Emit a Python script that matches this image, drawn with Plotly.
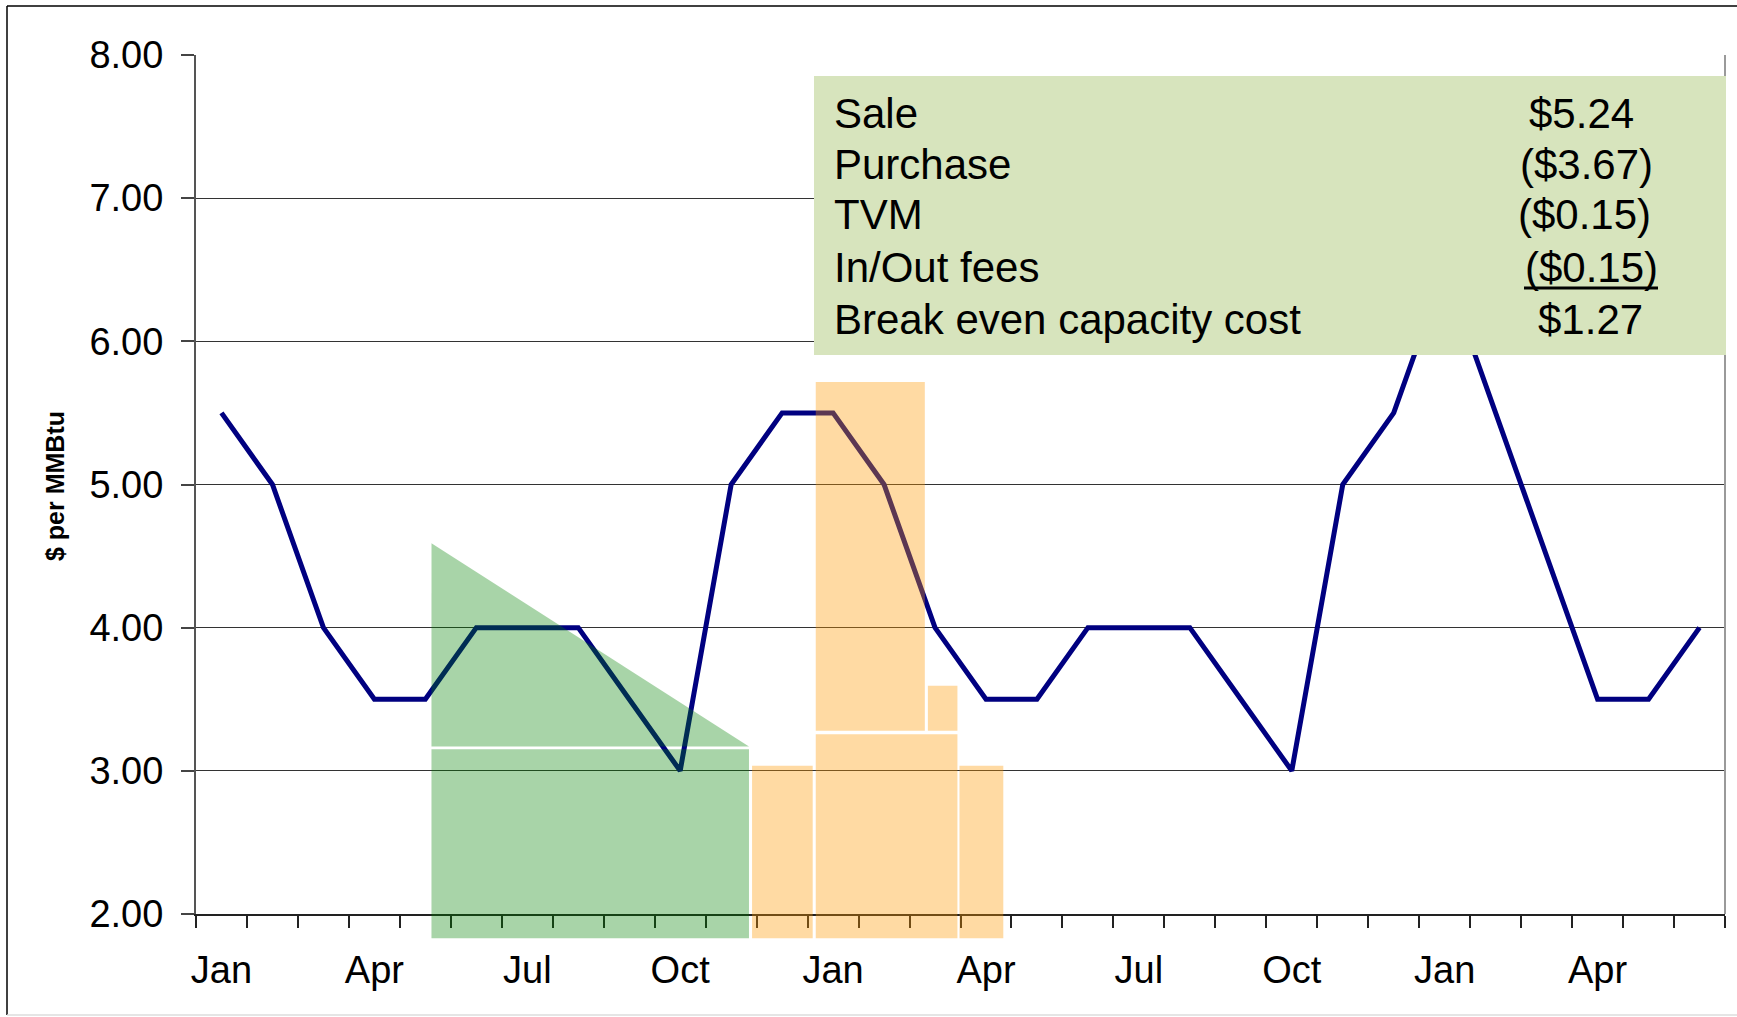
import plotly.graph_objects as go

# ---------------- data ----------------
months = ["Jan", "Feb", "Mar", "Apr", "May", "Jun", "Jul", "Aug", "Sep", "Oct", "Nov", "Dec",
          "Jan", "Feb", "Mar", "Apr", "May", "Jun", "Jul", "Aug", "Sep", "Oct", "Nov", "Dec",
          "Jan", "Feb", "Mar", "Apr", "May", "Jun"]
prices = [5.5, 5.0, 4.0, 3.5, 3.5, 4.0, 4.0, 4.0, 3.5, 3.0, 5.0, 5.5,
          5.5, 5.0, 4.0, 3.5, 3.5, 4.0, 4.0, 4.0, 3.5, 3.0, 5.0, 5.5,
          6.5, 5.5, 4.5, 3.5, 3.5, 4.0]
x_label_idx = [0, 3, 6, 9, 12, 15, 18, 21, 24, 27]
x_tick_labels = ["Jan", "Apr", "Jul", "Oct", "Jan", "Apr", "Jul", "Oct", "Jan", "Apr"]
y_tick_vals = [2, 3, 4, 5, 6, 7, 8]
y_tick_labels = ["2.00", "3.00", "4.00", "5.00", "6.00", "7.00", "8.00"]

# injection period (green)
inj_x0, inj_x1 = 4.62, 10.85
inj_bottom = 1.83
inj_rect_top = 3.15
inj_tri_base = 3.17
inj_tri_top = 4.59

# withdrawal blocks (orange)
wd_x0 = [10.91, 12.16, 12.16, 14.36, 14.98]
wd_x1 = [12.10, 14.94, 14.30, 14.94, 15.84]
wd_y0 = [1.83, 1.83, 3.28, 3.28, 1.83]
wd_y1 = [3.035, 3.256, 5.716, 3.594, 3.035]

table_labels = ["Sale", "Purchase", "TVM", "In/Out fees", "Break even capacity cost"]
table_values = ["$5.24", "($3.67)", "($0.15)", "($0.15)", "$1.27"]

# ---------------- layout geometry ----------------
W, H = 1737, 1017
L, R, T, B = 196, 1725, 55, 914
Y_MIN, Y_MAX = 2, 8
X_MIN, X_MAX = 0, len(prices)
FONT = "Liberation Sans, Arial, sans-serif"


def fx(px):
    return (px - L) / (R - L)


def fy(py):
    return (B - py) / (B - T)


def yd(v):
    return (v - Y_MIN) / (Y_MAX - Y_MIN)


fig = go.Figure()
fig.add_trace(go.Scatter(
    x=[i + 0.5 for i in range(len(prices))], y=prices, mode="lines",
    line=dict(color="#000080", width=5), hoverinfo="skip", showlegend=False,
))

shapes = []
GREEN = "rgba(0,128,0,0.34)"
ORANGE = "rgba(255,153,0,0.36)"
shapes.append(dict(type="rect", xref="x", yref="y domain", x0=inj_x0, x1=inj_x1,
                   y0=yd(inj_bottom), y1=yd(inj_rect_top), fillcolor=GREEN,
                   line=dict(width=0), layer="above"))
shapes.append(dict(type="path", xref="x", yref="y domain",
                   path=f"M {inj_x0},{yd(inj_tri_base)} L {inj_x0},{yd(inj_tri_top)} L {inj_x1},{yd(inj_tri_base)} Z",
                   fillcolor=GREEN, line=dict(width=0), layer="above"))
for a, b, c, d in zip(wd_x0, wd_x1, wd_y0, wd_y1):
    shapes.append(dict(type="rect", xref="x", yref="y domain", x0=a, x1=b,
                       y0=yd(c), y1=yd(d), fillcolor=ORANGE,
                       line=dict(width=0), layer="above"))

# right border of plot area
shapes.append(dict(type="line", xref="paper", yref="paper", x0=1, x1=1, y0=0, y1=1,
                   line=dict(color="#9a9a9a", width=2), layer="above"))
# table box
shapes.append(dict(type="rect", xref="paper", yref="paper", x0=fx(814), x1=fx(1726),
                   y0=fy(355), y1=fy(76), fillcolor="#d7e4bd", line=dict(width=0), layer="above"))
# underline
shapes.append(dict(type="line", xref="paper", yref="paper", x0=fx(1524), x1=fx(1658),
                   y0=fy(288), y1=fy(288), line=dict(color="black", width=3), layer="above"))
# outer frame
shapes.append(dict(type="line", xref="paper", yref="paper", x0=fx(7), x1=fx(1737),
                   y0=fy(6), y1=fy(6), line=dict(color="black", width=1.5), layer="above"))
shapes.append(dict(type="line", xref="paper", yref="paper", x0=fx(7), x1=fx(7),
                   y0=fy(6), y1=fy(1015), line=dict(color="black", width=1.5), layer="above"))
shapes.append(dict(type="line", xref="paper", yref="paper", x0=fx(7), x1=fx(1737),
                   y0=fy(1015), y1=fy(1015), line=dict(color="#dddddd", width=1.5), layer="above"))

annotations = []
row_y = [113, 164, 215, 267, 319]
val_cx = [1581, 1586, 1584, 1591, 1590]
for lab, val, ry, cx in zip(table_labels, table_values, row_y, val_cx):
    annotations.append(dict(xref="paper", yref="paper", x=fx(832), y=fy(ry), text=lab,
                            showarrow=False, xanchor="left", yanchor="middle",
                            font=dict(family=FONT, size=42, color="black")))
    annotations.append(dict(xref="paper", yref="paper", x=fx(cx), y=fy(ry), text=val,
                            showarrow=False, xanchor="center", yanchor="middle",
                            font=dict(family=FONT, size=42, color="black")))
annotations.append(dict(xref="paper", yref="paper", x=fx(55), y=fy(486), text="<b>$ per MMBtu</b>",
                        textangle=-90, showarrow=False, xanchor="center", yanchor="middle",
                        font=dict(family=FONT, size=25, color="black")))

fig.update_layout(
    width=W, height=H,
    margin=dict(l=L, r=W - R, t=T, b=H - B, pad=0),
    paper_bgcolor="white", plot_bgcolor="white",
    font=dict(family=FONT, color="black"),
    showlegend=False,
    shapes=shapes, annotations=annotations,
    xaxis=dict(range=[X_MIN, X_MAX], tickvals=[i + 0.5 for i in x_label_idx], ticktext=x_tick_labels,
               ticks="", showgrid=False, zeroline=False, showline=True, linecolor="#222222", linewidth=2,
               tickfont=dict(family=FONT, size=38, color="black"), ticklabelstandoff=21,
               minor=dict(tickvals=list(range(X_MIN, X_MAX + 1)), ticks="outside", ticklen=12,
                          tickwidth=1.5, tickcolor="#222222", showgrid=False)),
    yaxis=dict(range=[Y_MIN, Y_MAX], tickvals=y_tick_vals, ticktext=y_tick_labels,
               ticks="outside", ticklen=13, tickwidth=1.5, tickcolor="#444444",
               showgrid=True, gridcolor="#333333", gridwidth=1, zeroline=False,
               showline=True, linecolor="#555555", linewidth=2,
               tickfont=dict(family=FONT, size=38, color="black"), ticklabelstandoff=10),
)

fig.write_html("out.html", config={"displayModeBar": False},
               post_script="document.body.style.margin='0';document.body.style.overflow='hidden';")
